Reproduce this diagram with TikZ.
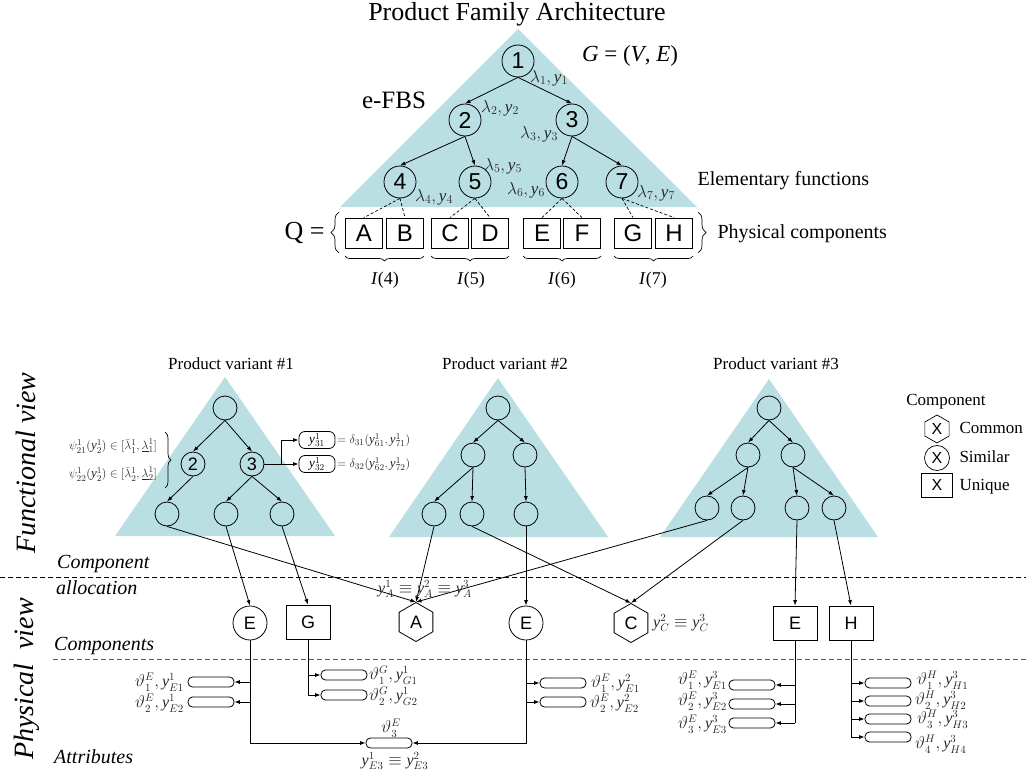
\documentclass[tikz,border=0pt]{standalone}
\usepackage{fontspec}
\setmainfont{Liberation Serif}
\newfontfamily\arialf{Liberation Sans}
\usetikzlibrary{arrows.meta,shapes.geometric,decorations.pathreplacing}
\definecolor{tri}{RGB}{185,223,227}
\newcommand{\myfs}[1]{\fontsize{#1}{#1}\selectfont}
\newcommand{\yy}{\mathit{y}}
\begin{document}
\begin{tikzpicture}[x=1pt,y=-1pt,
  ln/.style={line width=0.8pt},
  ar/.style={line width=0.8pt,-{Latex[length=5.5pt,width=4pt]}},
  dl/.style={line width=0.7pt,dash pattern=on 3pt off 2pt},
  tn/.style={circle,draw,line width=0.8pt,minimum size=32pt,inner sep=0pt,font=\arialf\myfs{23}},
  vn/.style={circle,draw,line width=0.8pt,minimum size=24pt,inner sep=0pt,font=\arialf\myfs{18}},
  qb/.style={rectangle,draw,line width=0.8pt,minimum width=37pt,minimum height=30pt,inner sep=0pt,font=\arialf\myfs{24}},
  cc/.style={circle,draw,line width=0.8pt,minimum size=34pt,inner sep=0pt,font=\arialf\myfs{18}},
  cb/.style={rectangle,draw,line width=0.8pt,minimum width=44pt,minimum height=34pt,inner sep=0pt,font=\arialf\myfs{18}},
  ch/.style={regular polygon,regular polygon sides=6,shape border rotate=90,draw,line width=0.8pt,minimum size=39pt,inner sep=0pt,font=\arialf\myfs{18}},
  pill/.style={rectangle,rounded corners=4.5pt,draw,line width=0.8pt,minimum width=46pt,minimum height=10pt,inner sep=0pt},
  ybox/.style={rectangle,rounded corners=6pt,draw,line width=0.8pt,minimum width=36pt,minimum height=17pt,inner sep=0pt,font=\myfs{13}},
  lam/.style={font=\myfs{17},text=black!85,inner sep=0pt},
  lbl/.style={font=\myfs{16},text=black!85,inner sep=0pt},
  sml/.style={font=\myfs{13},text=black!85,inner sep=0pt},
  side/.style={font=\itshape\myfs{20},inner sep=0pt,anchor=west},
  brc/.style={decorate,line width=0.7pt},
]
\useasboundingbox (0,0) rectangle (1026,776);
% triangles
\fill[tri] (518,29) -- (340,207) -- (697,207) -- cycle;
\fill[tri] (225,377) -- (115,536) -- (335,536) -- cycle;
\fill[tri] (498,378) -- (389,537) -- (608,537) -- cycle;
\fill[tri] (769,379) -- (660,537) -- (878,537) -- cycle;

% ---------- top part ----------
\node[font=\myfs{26}] (title) at (517,14) {Product Family Architecture};
\node[font=\myfs{23}] (gve) at (630,56) {\textit{G} = (\textit{V}, \textit{E})};
\node[font=\myfs{25}] (efbs) at (394,100) {e-FBS};
\node[font=\myfs{20},anchor=west] (elem) at (694,181) {Elementary functions};

\node[tn] (t1) at (518,61) {1};
\node[tn] (t2) at (465,120) {2};
\node[tn] (t3) at (572,120) {3};
\node[tn] (t4) at (400,182) {4};
\node[tn] (t5) at (475,182) {5};
\node[tn] (t6) at (562,182) {6};
\node[tn] (t7) at (622,182) {7};
\draw[ar] (t1.south) -- (t2.north);
\draw[ar] (t1.south) -- (t3.north);
\draw[ar] (t2.south) -- (t4.north);
\draw[ar] (t2.south) -- (t5.north);
\draw[ar] (t3.south) -- (t6.north);
\draw[ar] (t3.south) -- (t7.north);

\node[lam] (l1) at (549,78) {$\lambda_1, \yy_1$};
\node[lam] (l2) at (500,108) {$\lambda_2, \yy_2$};
\node[lam] (l3) at (539,134) {$\lambda_3, \yy_3$};
\node[lam] (l5) at (503,166) {$\lambda_5, \yy_5$};
\node[lam] (l4) at (434,197) {$\lambda_4, \yy_4$};
\node[lam] (l6) at (526,190) {$\lambda_6, \yy_6$};
\node[lam] (l7) at (656,193) {$\lambda_7, \yy_7$};

\node[qb] (qA) at (364,233) {A};
\node[qb] (qB) at (405,233) {B};
\node[qb] (qC) at (450,233) {C};
\node[qb] (qD) at (490,233) {D};
\node[qb] (qE) at (542,233) {E};
\node[qb] (qF) at (582,233) {F};
\node[qb] (qG) at (633,233) {G};
\node[qb] (qH) at (674,233) {H};
\draw[dl] (t4.south) -- (qA.north);
\draw[dl] (t4.south) -- (qB.north);
\draw[dl] (t5.south) -- (qC.north);
\draw[dl] (t5.south) -- (qD.north);
\draw[dl] (t6.south) -- (qE.north);
\draw[dl] (t6.south) -- (qF.north);
\draw[dl] (t7.south) -- (qG.north);
\draw[dl] (t7.south) -- (qH.north);

\node[font=\myfs{26},anchor=east] (q) at (328,233) {Q =};
\draw[brc,decoration={brace,amplitude=8pt}] (339,253) -- (339,212);
\draw[brc,decoration={brace,amplitude=8pt}] (698,212) -- (698,253);
\node[font=\myfs{20},anchor=west] (phys) at (714,234) {Physical components};

\draw[brc,decoration={brace,amplitude=5pt}] (424,256) -- (345,256);
\draw[brc,decoration={brace,amplitude=5pt}] (509,256) -- (431,256);
\draw[brc,decoration={brace,amplitude=5pt}] (601,256) -- (523,256);
\draw[brc,decoration={brace,amplitude=5pt}] (693,256) -- (614,256);
\node[font=\myfs{18}] (i4) at (385,280) {\textit{I}(4)};
\node[font=\myfs{18}] (i5) at (471,280) {\textit{I}(5)};
\node[font=\myfs{18}] (i6) at (562,280) {\textit{I}(6)};
\node[font=\myfs{18}] (i7) at (653,280) {\textit{I}(7)};

% ---------- functional view ----------
\node[font=\myfs{17}] (pv1) at (231,364) {Product variant \#1};
\node[font=\myfs{17}] (pv2) at (505,364) {Product variant \#2};
\node[font=\myfs{17}] (pv3) at (776,364) {Product variant \#3};

% variant 1
\node[vn] (a1) at (225,408) {};
\node[vn] (a2) at (193,464) {2};
\node[vn] (a3) at (252,464) {3};
\node[vn] (a4) at (167,514) {};
\node[vn] (a5) at (226,514) {};
\node[vn] (a6) at (282,514) {};
\draw[ar] (a1.south) -- (a2.north);
\draw[ar] (a1.south) -- (a3.north);
\draw[ar] (a2.south) -- (a4.north);
\draw[ar] (a3.south) -- (a5.north);
\draw[ar] (a3.south) -- (a6.north);

\node[ybox] (y31) at (317,440) {$\yy^1_{31}$};
\node[ybox] (y32) at (317,464) {$\yy^1_{32}$};
\coordinate (sp) at (281,464);
\draw[ln] (a3.east) -- (sp);
\draw[ar] (sp) |- (y31.west);
\draw[ar] (sp) -- (y32.west);
\node[sml,anchor=west] (d31) at (337,440) {$= \delta_{31}(\yy^1_{61}, \yy^1_{71})$};
\node[sml,anchor=west] (d32) at (337,464) {$= \delta_{32}(\yy^1_{62}, \yy^1_{72})$};

\node[sml] (psi1) at (113,446) {$\psi^1_{21}(\yy^1_2)\in[\bar{\lambda}^1_1, \underline{\lambda}^1_1]$};
\node[sml] (psi2) at (113,474) {$\psi^1_{22}(\yy^1_2)\in[\bar{\lambda}^1_2, \underline{\lambda}^1_2]$};
\draw[brc,decoration={brace,amplitude=6pt}] (165,432) -- (165,488);

% variant 2
\node[vn] (b1) at (498,408) {};
\node[vn] (b2) at (473,455) {};
\node[vn] (b3) at (525,455) {};
\node[vn] (b4) at (434,514) {};
\node[vn] (b5) at (472,514) {};
\node[vn] (b6) at (526,514) {};
\draw[ar] (b1.south) -- (b2.north);
\draw[ar] (b1.south) -- (b3.north);
\draw[ar] (b2.south) -- (b4.north);
\draw[ar] (b2.south) -- (b5.north);
\draw[ar] (b3.south) -- (b6.north);

% variant 3
\node[vn] (c1) at (769,408) {};
\node[vn] (c2) at (748,455) {};
\node[vn] (c3) at (793,455) {};
\node[vn] (c4) at (707,508) {};
\node[vn] (c5) at (743,508) {};
\node[vn] (c6) at (797,508) {};
\node[vn] (c7) at (834,508) {};
\draw[ar] (c1.south) -- (c2.north);
\draw[ar] (c1.south) -- (c3.north);
\draw[ar] (c2.south) -- (c4.north);
\draw[ar] (c2.south) -- (c5.north);
\draw[ar] (c3.south) -- (c6.north);
\draw[ar] (c3.south) -- (c7.north);

% legend
\node[font=\myfs{17}] (leg) at (946,402) {Component};
\node[regular polygon,regular polygon sides=6,shape border rotate=90,draw,line width=0.7pt,minimum size=28pt,inner sep=0pt,font=\arialf\myfs{16}] (lgh) at (937,429) {X};
\node[circle,draw,line width=0.7pt,minimum size=25pt,inner sep=0pt,font=\arialf\myfs{16}] (lgc) at (937,458) {X};
\node[rectangle,draw,line width=0.7pt,minimum width=31pt,minimum height=24pt,inner sep=0pt,font=\arialf\myfs{16}] (lgb) at (937,485) {X};
\node[font=\myfs{17},anchor=west] (lgt1) at (956,428) {Common};
\node[font=\myfs{17},anchor=west] (lgt2) at (956,457) {Similar};
\node[font=\myfs{17},anchor=west] (lgt3) at (956,487) {Unique};

% ---------- side labels and separators ----------
\node[font=\itshape\myfs{28},rotate=90] (fv) at (26,463) {Functional view};
\node[font=\itshape\myfs{28},rotate=90] (pvw) at (27,679) {Physical\ \ view};
\node[side] (ca1) at (57,564) {Component};
\node[side] (ca2) at (56,588) {allocation};
\node[side] (cmp) at (54,646) {Components};
\node[side] (att) at (54,757) {Attributes};
\draw[line width=0.8pt,dash pattern=on 5pt off 3pt] (0,577) -- (1026,577);
\draw[line width=0.8pt,dash pattern=on 5pt off 3pt,black!65] (53,659) -- (1026,659);

% ---------- physical components ----------
\node[cc] (e1) at (250,623) {E};
\node[cb] (g1) at (308,622) {G};
\node[ch] (ca) at (416,622) {A};
\node[cc] (e2) at (526,623) {E};
\node[ch] (cc) at (631,623) {C};
\node[cb] (e3) at (795,623) {E};
\node[cb] (h3) at (851,623) {H};

\draw[ar] (a4.south) -- (ca.north);
\draw[ar] (a5.south) -- (e1.north);
\draw[ar] (a6.south) -- (g1.north);
\draw[ar] (b4.south) -- (ca.north);
\draw[ar] (b5.south) -- (cc.north);
\draw[ar] (b6.south) -- (e2.north);
\draw[ar] (c4.south) -- (ca.north);
\draw[ar] (c5.south) -- (cc.north);
\draw[ar] (c6.south) -- (e3.north);
\draw[ar] (c7.south) -- (h3.north);

\node[lbl] (ya) at (425,589) {$\yy^1_A \equiv \yy^2_A \equiv \yy^3_A$};
\node[lbl,anchor=west] (yc) at (653,623) {$\yy^2_C \equiv \yy^3_C$};

% ---------- attributes ----------
\node[pill] (p11) at (211,682) {};
\node[pill] (p12) at (211,702) {};
\node[pill] (p3) at (389,743) {};
\draw[ar] (e1.south) |- (p3.west);
\draw[ar] (e1.south |- p11) -- (p11.east);
\draw[ar] (e1.south |- p12) -- (p12.east);
\node[lbl,anchor=east] (t11) at (184,682) {$\vartheta^E_1, \yy^1_{E1}$};
\node[lbl,anchor=east] (t12) at (184,703) {$\vartheta^E_2, \yy^1_{E2}$};

\node[pill] (pg1) at (344,675) {};
\node[pill] (pg2) at (344,695) {};
\draw[ln] (g1.south) -- (g1.south |- pg2);
\draw[ar] (g1.south |- pg1) -- (pg1.west);
\draw[ar] (g1.south |- pg2) -- (pg2.west);
\node[lbl,anchor=west] (tg1) at (369,675) {$\vartheta^G_1, \yy^1_{G1}$};
\node[lbl,anchor=west] (tg2) at (369,696) {$\vartheta^G_2, \yy^1_{G2}$};

\node[lbl] (t3a) at (391,728) {$\vartheta^E_3$};
\node[lbl] (t3b) at (395,761) {$\yy^1_{E3} \equiv \yy^2_{E3}$};

\node[pill] (p21) at (563,683) {};
\node[pill] (p22) at (563,702) {};
\draw[ar] (e2.south) |- (p3.east);
\draw[ar] (e2.south |- p21) -- (p21.west);
\draw[ar] (e2.south |- p22) -- (p22.west);
\node[lbl,anchor=west] (t21) at (591,683) {$\vartheta^E_1, \yy^2_{E1}$};
\node[lbl,anchor=west] (t22) at (590,703) {$\vartheta^E_2, \yy^2_{E2}$};

\node[pill] (p31) at (752,685) {};
\node[pill] (p32) at (752,704) {};
\node[pill] (p33) at (752,723) {};
\draw[ln] (e3.south) -- (e3.south |- p33);
\draw[ar] (e3.south |- p31) -- (p31.east);
\draw[ar] (e3.south |- p32) -- (p32.east);
\draw[ar] (e3.south |- p33) -- (p33.east);
\node[lbl,anchor=east] (t31) at (727,680) {$\vartheta^E_1, \yy^3_{E1}$};
\node[lbl,anchor=east] (t32) at (727,701) {$\vartheta^E_2, \yy^3_{E2}$};
\node[lbl,anchor=east] (t33) at (727,724) {$\vartheta^E_3, \yy^3_{E3}$};

\node[pill] (ph1) at (888,683) {};
\node[pill] (ph2) at (888,701) {};
\node[pill] (ph3) at (888,719) {};
\node[pill] (ph4) at (888,737) {};
\draw[ln] (h3.south) -- (h3.south |- ph4);
\draw[ar] (h3.south |- ph1) -- (ph1.west);
\draw[ar] (h3.south |- ph2) -- (ph2.west);
\draw[ar] (h3.south |- ph3) -- (ph3.west);
\draw[ar] (h3.south |- ph4) -- (ph4.west);
\node[lbl,anchor=west] (th1) at (917,680) {$\vartheta^H_1, \yy^3_{H1}$};
\node[lbl,anchor=west] (th2) at (915,700) {$\vartheta^H_2, \yy^3_{H2}$};
\node[lbl,anchor=west] (th3) at (917,719) {$\vartheta^H_3, \yy^3_{H3}$};
\node[lbl,anchor=west] (th4) at (915,744) {$\vartheta^H_4, \yy^3_{H4}$};
\end{tikzpicture}
\end{document}
